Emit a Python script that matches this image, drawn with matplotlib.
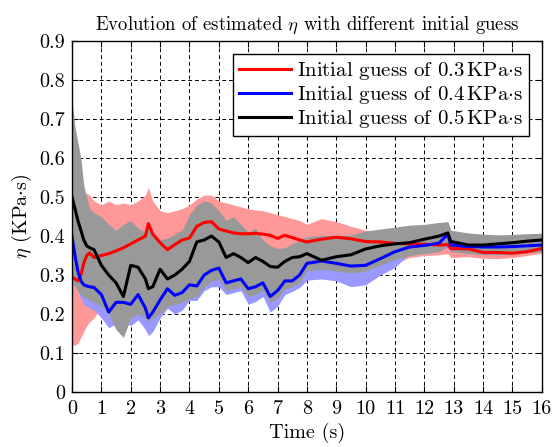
import matplotlib
matplotlib.use("Agg")
import matplotlib.pyplot as plt
import numpy as np

plt.rcParams['font.family'] = 'serif'
plt.rcParams['font.serif'] = ['cmr10']
plt.rcParams['mathtext.fontset'] = 'cm'
plt.rcParams['axes.formatter.use_mathtext'] = True

# time grid (s)
t = [0, 0.1, 0.2, 0.3, 0.4, 0.5, 0.6, 0.75, 1.0, 1.25, 1.5, 1.75, 2.0, 2.25, 2.5, 2.6, 2.75,
     3.0, 3.25, 3.5, 3.75, 4.0, 4.25, 4.5, 4.75, 5.0, 5.25, 5.5, 5.75, 6.0, 6.25, 6.5, 6.75,
     7.0, 7.25, 7.5, 7.75, 8.0, 8.5, 9.0, 9.5, 10.0, 10.5, 11.0, 11.5, 12.0, 12.5, 12.8, 12.9,
     13.5, 14.0, 14.5, 15.0, 15.5, 16.0]

# estimate with initial guess 0.3
red_mean = [0.295, 0.29, 0.285, 0.30, 0.33, 0.35, 0.357, 0.345, 0.35, 0.355, 0.362, 0.37, 0.38,
            0.39, 0.40, 0.432, 0.405, 0.383, 0.365, 0.378, 0.39, 0.395, 0.425, 0.435, 0.437,
            0.418, 0.413, 0.408, 0.406, 0.406, 0.407, 0.405, 0.402, 0.394, 0.402, 0.396, 0.39,
            0.385, 0.392, 0.397, 0.393, 0.386, 0.385, 0.381, 0.38, 0.379, 0.377, 0.378, 0.368,
            0.367, 0.358, 0.358, 0.356, 0.36, 0.368]
red_upper = [0.45, 0.47, 0.48, 0.49, 0.50, 0.51, 0.505, 0.49, 0.48, 0.49, 0.48, 0.485, 0.48,
             0.49, 0.505, 0.525, 0.49, 0.465, 0.46, 0.465, 0.47, 0.48, 0.495, 0.505, 0.505,
             0.49, 0.485, 0.48, 0.475, 0.47, 0.467, 0.465, 0.46, 0.455, 0.45, 0.445, 0.44,
             0.43, 0.445, 0.437, 0.425, 0.415, 0.41, 0.405, 0.40, 0.395, 0.39, 0.39, 0.385,
             0.38, 0.375, 0.375, 0.375, 0.378, 0.38]
red_lower = [0.12, 0.12, 0.125, 0.14, 0.155, 0.17, 0.18, 0.19, 0.22, 0.2, 0.2, 0.2, 0.2,
             0.2, 0.2, 0.2, 0.2, 0.22, 0.23, 0.23, 0.23, 0.24, 0.25, 0.27, 0.28,
             0.28, 0.27, 0.27, 0.27, 0.25, 0.25, 0.26, 0.24, 0.25, 0.26, 0.27, 0.28,
             0.3, 0.3, 0.3, 0.29, 0.3, 0.31, 0.33, 0.345, 0.35, 0.352, 0.355, 0.345,
             0.347, 0.343, 0.342, 0.345, 0.35, 0.356]

# estimate with initial guess 0.4
blue_mean = [0.40, 0.35, 0.31, 0.285, 0.275, 0.272, 0.27, 0.268, 0.25, 0.205, 0.23, 0.23, 0.225,
             0.25, 0.215, 0.19, 0.205, 0.236, 0.265, 0.248, 0.255, 0.275, 0.272, 0.30, 0.312,
             0.318, 0.28, 0.285, 0.29, 0.265, 0.27, 0.28, 0.245, 0.26, 0.285, 0.285, 0.30,
             0.33, 0.336, 0.33, 0.323, 0.325, 0.342, 0.36, 0.372, 0.376, 0.382, 0.405, 0.377,
             0.373, 0.372, 0.372, 0.373, 0.375, 0.377]
blue_upper = [0.45, 0.40, 0.36, 0.335, 0.32, 0.315, 0.31, 0.305, 0.29, 0.25, 0.27, 0.27, 0.265,
              0.29, 0.26, 0.235, 0.25, 0.275, 0.3, 0.29, 0.295, 0.31, 0.31, 0.335, 0.345,
              0.35, 0.315, 0.32, 0.325, 0.3, 0.305, 0.315, 0.285, 0.295, 0.315, 0.32, 0.33,
              0.355, 0.36, 0.355, 0.35, 0.35, 0.365, 0.38, 0.39, 0.392, 0.395, 0.415, 0.39,
              0.385, 0.384, 0.384, 0.385, 0.387, 0.39]
blue_lower = [0.33, 0.29, 0.26, 0.24, 0.225, 0.22, 0.215, 0.21, 0.19, 0.165, 0.175, 0.18, 0.17,
              0.185, 0.16, 0.145, 0.155, 0.19, 0.215, 0.2, 0.21, 0.235, 0.235, 0.26, 0.27,
              0.27, 0.25, 0.255, 0.26, 0.225, 0.232, 0.245, 0.205, 0.22, 0.25, 0.258, 0.268,
              0.287, 0.29, 0.285, 0.27, 0.275, 0.3, 0.32, 0.355, 0.362, 0.365, 0.37, 0.36,
              0.36, 0.358, 0.358, 0.36, 0.362, 0.365]

# estimate with initial guess 0.5
black_mean = [0.50, 0.47, 0.44, 0.415, 0.39, 0.375, 0.37, 0.365, 0.325, 0.30, 0.28, 0.245, 0.325,
              0.32, 0.29, 0.265, 0.27, 0.315, 0.29, 0.30, 0.315, 0.335, 0.385, 0.39, 0.40,
              0.385, 0.345, 0.355, 0.345, 0.332, 0.345, 0.335, 0.322, 0.32, 0.335, 0.345, 0.347,
              0.355, 0.338, 0.347, 0.352, 0.367, 0.375, 0.38, 0.383, 0.392, 0.40, 0.408, 0.386,
              0.377, 0.377, 0.38, 0.383, 0.387, 0.39]
black_upper = [0.75, 0.68, 0.64, 0.60, 0.53, 0.50, 0.47, 0.46, 0.45, 0.43, 0.415, 0.43, 0.44,
               0.42, 0.41, 0.44, 0.405, 0.39, 0.395, 0.405, 0.415, 0.455, 0.48, 0.49, 0.485,
               0.465, 0.44, 0.45, 0.43, 0.41, 0.42, 0.39, 0.375, 0.368, 0.37, 0.38, 0.39,
               0.398, 0.402, 0.402, 0.403, 0.413, 0.418, 0.423, 0.428, 0.43, 0.435, 0.437, 0.415,
               0.408, 0.405, 0.403, 0.404, 0.406, 0.407]
black_lower = [0.28, 0.27, 0.26, 0.25, 0.245, 0.24, 0.235, 0.23, 0.22, 0.2, 0.16, 0.14, 0.19,
               0.2, 0.19, 0.18, 0.19, 0.2, 0.22, 0.225, 0.23, 0.24, 0.245, 0.27, 0.285,
               0.29, 0.26, 0.265, 0.27, 0.245, 0.25, 0.26, 0.23, 0.24, 0.265, 0.27, 0.28,
               0.31, 0.315, 0.31, 0.305, 0.31, 0.325, 0.34, 0.35, 0.355, 0.36, 0.375, 0.36,
               0.355, 0.352, 0.352, 0.354, 0.357, 0.36]

labels = ['Initial guess of 0.3$\\,$KPa$\\cdot$s',
          'Initial guess of 0.4$\\,$KPa$\\cdot$s',
          'Initial guess of 0.5$\\,$KPa$\\cdot$s']

FS = 14.5

fig = plt.figure(figsize=(5.54, 4.47), dpi=100)
ax = fig.add_axes([0.130, 0.123, 0.848, 0.785])

ax.fill_between(t, red_lower, red_upper, color='#ff9999', lw=0, zorder=2)
ax.fill_between(t, blue_lower, blue_upper, color='#9999ff', lw=0, zorder=3)
ax.fill_between(t, black_lower, black_upper, color='#999999', lw=0, zorder=4)

l1, = ax.plot(t, red_mean, color='red', lw=2.2, zorder=5, label=labels[0])
l2, = ax.plot(t, blue_mean, color='blue', lw=2.2, zorder=6, label=labels[1])
l3, = ax.plot(t, black_mean, color='black', lw=2.2, zorder=7, label=labels[2])

ax.set_xlim(0, 16)
ax.set_ylim(0, 0.9)
ax.set_xticks(np.arange(0, 17, 1))
ax.set_yticks(np.arange(0, 0.91, 0.1))
ax.set_xticklabels([str(i) for i in range(17)])
ax.set_yticklabels(['0'] + ['%.1f' % v for v in np.arange(0.1, 0.91, 0.1)])
ax.tick_params(direction='in', top=True, right=True, labelsize=FS, length=4, width=0.8)
ax.tick_params(axis='x', pad=6)
ax.tick_params(axis='y', pad=5)
ax.grid(True, color='black', linestyle=(0, (4, 3)), lw=0.7, zorder=1)
ax.set_axisbelow(True)
for s in ax.spines.values():
    s.set_linewidth(1.0)
    s.set_zorder(10)

ax.set_xlabel('Time (s)', fontsize=FS, labelpad=3)
ax.set_ylabel('$\\eta$ (KPa$\\cdot$s)', fontsize=FS, labelpad=4)
ax.set_title('Evolution of estimated $\\eta$ with different initial guess', fontsize=13.5, pad=8)

leg = ax.legend(handles=[l1, l2, l3], loc='upper right', fontsize=15, frameon=True,
                fancybox=False, edgecolor='black', framealpha=1, handlelength=2.5,
                borderpad=0.3, labelspacing=0.1, handletextpad=0.3, borderaxespad=0.6)
leg.get_frame().set_linewidth(1.0)
leg.set_zorder(20)

fig.savefig('out.png', dpi=100)
